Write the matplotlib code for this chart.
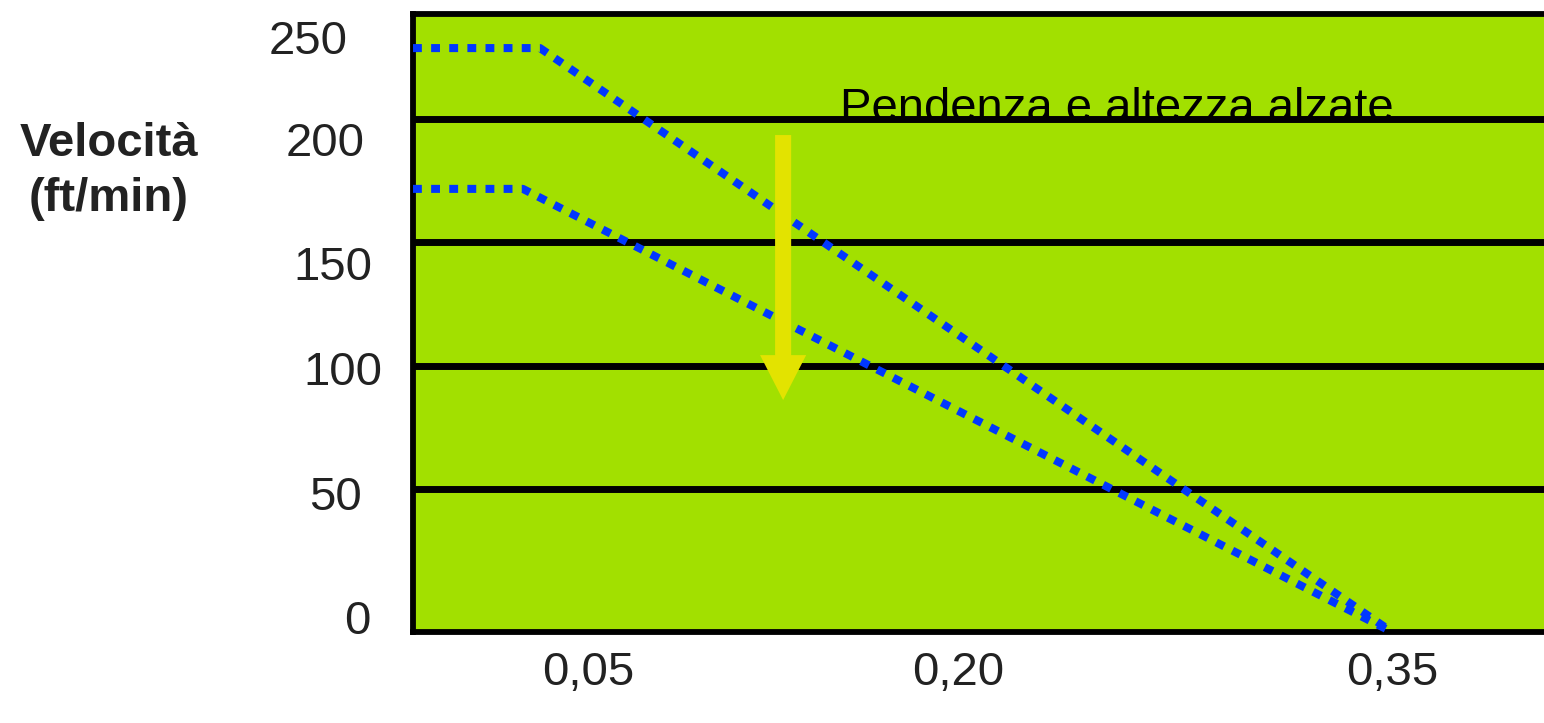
import matplotlib
matplotlib.use("Agg")
import matplotlib.pyplot as plt
import matplotlib.transforms as mtransforms

plt.rcParams['font.family'] = ['Liberation Sans', 'DejaVu Sans']

# ---------------- data ----------------
x_tick_labels = ["0,05", "0,20", "0,35"]
x_tick_pos = [0.05, 0.188, 0.35]

y_tick_labels = ["0", "50", "100", "150", "200", "250"]
y_tick_pos = [-1.6, 48.6, 99.2, 141.7, 191.7, 233.0]

grid_values = [50, 100, 150, 200]

upper_x = [-0.0153, 0.0321, 0.35]
upper_y = [228.7, 228.7, -7.7]

lower_x = [-0.0153, 0.0257, 0.35]
lower_y = [171.7, 171.7, -7.7]

arrow_x = 0.1228
arrow_y_start = 193.5
arrow_y_end = 86.2

annotation_text = "Pendenza e altezza alzate"
annotation_x = 0.144
annotation_y = 199.0

y_label = "Velocità\n(ft/min)"

# ---------------- style ----------------
GREEN = "#A2E000"
BLUE = "#0037FF"
YELLOW = "#E3E300"
TEXT = "#222222"
FS = 34

W, H = 1544, 723
fig = plt.figure(figsize=(W / 100, H / 100), dpi=100)
ax = fig.add_axes([413 / W, 91 / H, (W - 413) / W, 618 / H])
ax.set_facecolor(GREEN)
ax.set_xlim(-0.0153, 0.4067)
ax.set_ylim(-7.7, 242.5)

for side in ["left", "top", "bottom"]:
    ax.spines[side].set_linewidth(4.2)
    ax.spines[side].set_color("black")
ax.spines["right"].set_visible(False)

# annotation text (below grid lines)
ax.text(annotation_x, annotation_y, annotation_text, fontsize=FS, color="black",
        ha="left", va="baseline", zorder=1)

# horizontal grid lines
for g in grid_values:
    ax.axhline(g, color="black", lw=5.0, zorder=2)

# dotted curves
for xs, ys in [(upper_x, upper_y), (lower_x, lower_y)]:
    ax.plot(xs, ys, color=BLUE, lw=5.8, linestyle=(0, (1.1, 1.15)),
            dash_capstyle="butt", solid_joinstyle="miter", zorder=4, clip_on=False)

# yellow arrow
ax.arrow(arrow_x, arrow_y_start, 0, arrow_y_end - arrow_y_start,
         width=0.006, head_width=0.0172, head_length=18.2,
         length_includes_head=True, color=YELLOW, lw=0, zorder=5)

# ticks
ax.set_xticks(x_tick_pos, x_tick_labels)
ax.set_yticks(y_tick_pos, y_tick_labels)
ax.tick_params(axis="both", length=0, labelsize=FS, labelcolor=TEXT)
ax.tick_params(axis="x", pad=14)
ax.tick_params(axis="y", pad=0)

y_label_dx = [-43, -51, -31, -41, -48, -65]
for lab, dx in zip(ax.yaxis.get_majorticklabels(), y_label_dx):
    off = mtransforms.ScaledTranslation(dx / 100, 0, fig.dpi_scale_trans)
    lab.set_transform(lab.get_transform() + off)

ax.set_ylabel(y_label, rotation=0, fontsize=FS, fontweight="bold", color=TEXT,
              ha="center", va="center", multialignment="center", linespacing=1.32)
ax.yaxis.set_label_coords(-0.2688, 0.745)

fig.savefig("out.png", dpi=100, facecolor="white")
